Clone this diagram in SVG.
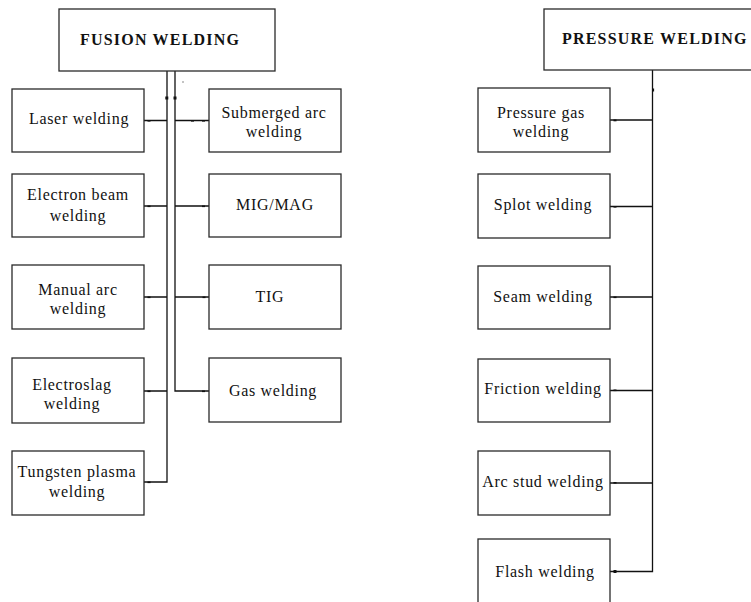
<svg xmlns="http://www.w3.org/2000/svg" width="751" height="602" viewBox="0 0 751 602">
<style>
  .box { fill: #ffffff; stroke: #2a2a2a; stroke-width: 1.3; }
  .ln { fill: none; stroke: #111111; stroke-width: 1.3; }
  .tk { fill: #111111; }
  .t { font-family: "Liberation Serif", "Times New Roman", serif; font-size: 16px; fill: #111111; text-anchor: middle; letter-spacing: 0.7px; }
  .h { font-family: "Liberation Serif", "Times New Roman", serif; font-size: 16px; font-weight: bold; fill: #111111; letter-spacing: 1.2px; }
</style>
<rect x="0" y="0" width="751" height="602" fill="#ffffff"/>

<g id="connectors">
  <path class="ln" d="M167,71 V482 H144 M167,120.5 H144 M167,206 H144 M167,297 H144 M167,391 H144"/>
  <path class="ln" d="M175,71 V391 H209 M175,120.5 H209 M175,206 H209 M175,297 H209"/>
  <path class="ln" d="M652.5,70 V571.5 H610 M652.5,120 H610 M652.5,206.5 H610 M652.5,297 H610 M652.5,390.5 H610 M652.5,483 H610"/>
  <rect class="tk" x="165.3" y="96.5" width="3" height="3"/>
  <rect class="tk" x="173.5" y="96.5" width="3" height="3"/>
  <rect class="tk" x="182.5" y="81.5" width="1" height="1"/>
  <rect class="tk" x="652.5" y="88.5" width="1.6" height="3"/>
  <rect class="tk" x="147.5" y="120" width="3" height="1.6"/>
  <rect class="tk" x="147.5" y="205.5" width="3" height="1.6"/>
  <rect class="tk" x="147.5" y="296.5" width="3" height="1.6"/>
  <rect class="tk" x="147.5" y="390.5" width="3" height="1.6"/>
  <rect class="tk" x="147.5" y="481.5" width="3" height="1.6"/>
  <rect class="tk" x="191" y="120" width="3" height="1.6"/>
  <rect class="tk" x="202" y="120" width="3" height="1.6"/>
  <rect class="tk" x="202" y="205.5" width="3" height="1.6"/>
  <rect class="tk" x="202.5" y="296.5" width="3" height="1.6"/>
  <rect class="tk" x="202" y="390.5" width="3" height="1.6"/>
  <rect class="tk" x="613.5" y="119.5" width="3" height="1.8"/>
  <rect class="tk" x="613.5" y="206" width="3" height="1.6"/>
  <rect class="tk" x="613.5" y="296.5" width="3" height="1.6"/>
  <rect class="tk" x="613.5" y="389.5" width="3" height="1.6"/>
  <rect class="tk" x="613.5" y="482" width="3" height="1.6"/>
  <rect class="tk" x="613.5" y="570" width="3" height="3"/>
</g>

<g id="fusion-welding">
  <rect class="box" x="59" y="9" width="216" height="62"/>
  <text class="h" x="80" y="45">FUSION WELDING</text>
</g>
<g id="laser-welding">
  <rect class="box" x="12" y="89" width="132" height="63"/>
  <text class="t" x="79" y="124">Laser welding</text>
</g>
<g id="electron-beam-welding">
  <rect class="box" x="12" y="174" width="132" height="63"/>
  <text class="t" x="78" y="200">Electron beam</text>
  <text class="t" x="78" y="221">welding</text>
</g>
<g id="manual-arc-welding">
  <rect class="box" x="12" y="265" width="132" height="64"/>
  <text class="t" x="78" y="295">Manual arc</text>
  <text class="t" x="78" y="314">welding</text>
</g>
<g id="electroslag-welding">
  <rect class="box" x="12" y="358" width="132" height="65"/>
  <text class="t" x="72" y="390">Electroslag</text>
  <text class="t" x="72" y="409">welding</text>
</g>
<g id="tungsten-plasma-welding">
  <rect class="box" x="12" y="451" width="132" height="64"/>
  <text class="t" x="77" y="477">Tungsten plasma</text>
  <text class="t" x="77" y="497">welding</text>
</g>
<g id="submerged-arc-welding">
  <rect class="box" x="209" y="89" width="132" height="63"/>
  <text class="t" x="274" y="118">Submerged arc</text>
  <text class="t" x="274" y="137">welding</text>
</g>
<g id="mig-mag">
  <rect class="box" x="209" y="174" width="132" height="63"/>
  <text class="t" x="275" y="210">MIG/MAG</text>
</g>
<g id="tig">
  <rect class="box" x="209" y="265" width="132" height="64"/>
  <text class="t" x="270" y="302">TIG</text>
</g>
<g id="gas-welding">
  <rect class="box" x="209" y="358" width="132" height="64"/>
  <text class="t" x="273" y="396">Gas welding</text>
</g>

<g id="pressure-welding">
  <rect class="box" x="544" y="9" width="212" height="61"/>
  <text class="h" x="562" y="44">PRESSURE WELDING</text>
</g>
<g id="pressure-gas-welding">
  <rect class="box" x="478" y="88" width="132" height="64"/>
  <text class="t" x="541" y="118">Pressure gas</text>
  <text class="t" x="541" y="137">welding</text>
</g>
<g id="splot-welding">
  <rect class="box" x="478" y="174" width="132" height="64"/>
  <text class="t" x="543" y="210">Splot welding</text>
</g>
<g id="seam-welding">
  <rect class="box" x="478" y="266" width="132" height="63"/>
  <text class="t" x="543" y="302">Seam welding</text>
</g>
<g id="friction-welding">
  <rect class="box" x="478" y="359" width="132" height="63"/>
  <text class="t" x="543" y="394">Friction welding</text>
</g>
<g id="arc-stud-welding">
  <rect class="box" x="478" y="451" width="132" height="64"/>
  <text class="t" x="543" y="487">Arc stud welding</text>
</g>
<g id="flash-welding">
  <rect class="box" x="478" y="539" width="132" height="70"/>
  <text class="t" x="545" y="577">Flash welding</text>
</g>
</svg>
